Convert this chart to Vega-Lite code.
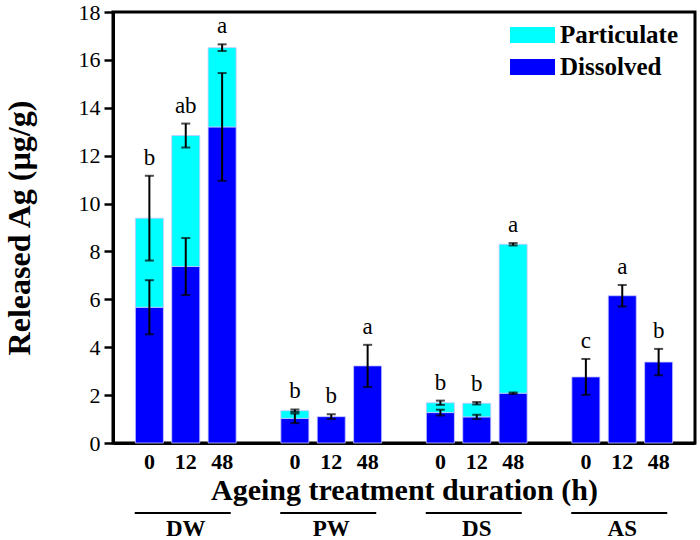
{
  "$schema": "https://vega.github.io/schema/vega-lite/v6.json",
  "width": 582,
  "height": 431,
  "autosize": {"type": "none"},
  "padding": {"left": 113, "top": 12, "right": 5, "bottom": 97},
  "background": "white",
  "config": {
    "view": {"stroke": "black", "strokeWidth": 3},
    "font": "'Liberation Serif', 'DejaVu Serif', serif"
  },
  "data": {
    "values": [
      {"group": "DW", "time": 0, "component": "Dissolved", "value": 5.67, "err": 1.13, "sig": "b"},
      {"group": "DW", "time": 0, "component": "Particulate", "value": 3.72, "err": 1.77, "sig": "b"},
      {"group": "DW", "time": 12, "component": "Dissolved", "value": 7.37, "err": 1.19, "sig": "ab"},
      {"group": "DW", "time": 12, "component": "Particulate", "value": 5.47, "err": 0.5, "sig": "ab"},
      {"group": "DW", "time": 48, "component": "Dissolved", "value": 13.2, "err": 2.25, "sig": "a"},
      {"group": "DW", "time": 48, "component": "Particulate", "value": 3.31, "err": 0.14, "sig": "a"},
      {"group": "PW", "time": 0, "component": "Dissolved", "value": 1.03, "err": 0.2, "sig": "b"},
      {"group": "PW", "time": 0, "component": "Particulate", "value": 0.32, "err": 0.05, "sig": "b"},
      {"group": "PW", "time": 12, "component": "Dissolved", "value": 1.1, "err": 0.1, "sig": "b"},
      {"group": "PW", "time": 48, "component": "Dissolved", "value": 3.22, "err": 0.88, "sig": "a"},
      {"group": "DS", "time": 0, "component": "Dissolved", "value": 1.27, "err": 0.12, "sig": "b"},
      {"group": "DS", "time": 0, "component": "Particulate", "value": 0.41, "err": 0.09, "sig": "b"},
      {"group": "DS", "time": 12, "component": "Dissolved", "value": 1.09, "err": 0.09, "sig": "b"},
      {"group": "DS", "time": 12, "component": "Particulate", "value": 0.57, "err": 0.05, "sig": "b"},
      {"group": "DS", "time": 48, "component": "Dissolved", "value": 2.08, "err": 0.03, "sig": "a"},
      {"group": "DS", "time": 48, "component": "Particulate", "value": 6.22, "err": 0.05, "sig": "a"},
      {"group": "AS", "time": 0, "component": "Dissolved", "value": 2.76, "err": 0.75, "sig": "c"},
      {"group": "AS", "time": 12, "component": "Dissolved", "value": 6.15, "err": 0.45, "sig": "a"},
      {"group": "AS", "time": 48, "component": "Dissolved", "value": 3.38, "err": 0.55, "sig": "b"}
    ]
  },
  "transform": [{"calculate": "datum.group + ' ' + datum.time", "as": "sample"}],
  "layer": [
    {
      "mark": {"type": "bar", "stroke": "#c8c8ff", "strokeWidth": 0.8},
      "encoding": {
        "x": {
          "field": "sample",
          "type": "nominal",
          "title": "Ageing treatment duration (h)",
          "scale": {
            "domain": ["DW 0", "DW 12", "DW 48", "gap1", "PW 0", "PW 12", "PW 48", "gap2", "DS 0", "DS 12", "DS 48", "gap3", "AS 0", "AS 12", "AS 48"],
            "paddingInner": 0.23,
            "paddingOuter": 0.615
          },
          "axis": {
            "labelExpr": "indexof(datum.label, 'gap') >= 0 ? '' : split(datum.label, ' ')[1]",
            "labelAngle": 0,
            "ticks": false,
            "domainWidth": 3,
            "domainColor": "black",
            "labelFont": "'Liberation Serif', 'DejaVu Serif', serif",
            "labelFontSize": 22,
            "labelFontWeight": "bold",
            "labelColor": "black",
            "labelPadding": 8,
            "titleFont": "'Liberation Serif', 'DejaVu Serif', serif",
            "titleFontSize": 30,
            "titleFontWeight": "bold",
            "titleColor": "black",
            "titlePadding": 3
          }
        },
        "y": {
          "field": "value",
          "type": "quantitative",
          "stack": "zero",
          "title": "Released Ag (µg/g)",
          "scale": {"domain": [0, 18], "nice": false},
          "axis": {
            "values": [0, 1, 2, 3, 4, 5, 6, 7, 8, 9, 10, 11, 12, 13, 14, 15, 16, 17, 18],
            "labelExpr": "datum.value % 2 ? '' : datum.label",
            "tickSize": {"condition": {"test": "datum.value % 2 == 1", "value": 5}, "value": 9},
            "tickWidth": 2.5,
            "tickColor": "black",
            "domainColor": "black",
            "domainWidth": 3,
            "grid": false,
            "labelOverlap": false,
            "labelFlush": false,
            "labelFont": "'Liberation Serif', 'DejaVu Serif', serif",
            "labelFontSize": 22,
            "labelColor": "black",
            "labelPadding": 4,
            "titleFont": "'Liberation Serif', 'DejaVu Serif', serif",
            "titleFontSize": 32,
            "titleFontWeight": "bold",
            "titleColor": "black",
            "titlePadding": 42
          }
        },
        "color": {
          "field": "component",
          "type": "nominal",
          "scale": {"domain": ["Particulate", "Dissolved"], "range": ["#00FFFF", "#0000FF"]},
          "legend": {
            "orient": "none",
            "legendX": 404.5,
            "legendY": 8,
            "title": null,
            "padding": 0,
            "symbolType": "M-1.5,-0.53L1.5,-0.53L1.5,0.53L-1.5,0.53Z",
            "symbolSize": 900,
            "symbolStrokeWidth": 0,
            "symbolOpacity": 1,
            "rowPadding": 4,
            "labelOffset": 12.5,
            "labelFont": "'Liberation Serif', 'DejaVu Serif', serif",
            "labelFontSize": 25,
            "labelFontWeight": "bold",
            "labelColor": "black"
          }
        },
        "order": {"field": "component", "sort": "ascending"}
      }
    },
    {
      "transform": [
        {"stack": "value", "groupby": ["sample"], "sort": [{"field": "component", "order": "ascending"}], "as": ["v0", "v1"]}
      ],
      "mark": {"type": "errorbar", "color": "black", "thickness": 2, "ticks": {"size": 9}},
      "encoding": {
        "x": {"field": "sample", "type": "nominal", "title": "Ageing treatment duration (h)"},
        "y": {"field": "v1", "type": "quantitative", "title": "Released Ag (µg/g)"},
        "yError": {"field": "err"}
      }
    },
    {
      "transform": [
        {"stack": "value", "groupby": ["sample"], "sort": [{"field": "component", "order": "ascending"}], "as": ["v0", "v1"]},
        {"calculate": "datum.v1 + datum.err", "as": "hi"},
        {"aggregate": [{"op": "max", "field": "hi", "as": "hi"}], "groupby": ["sample", "sig"]}
      ],
      "mark": {"type": "text", "baseline": "alphabetic", "dy": -11, "fontSize": 23, "font": "'Liberation Serif', 'DejaVu Serif', serif", "color": "black"},
      "encoding": {
        "x": {"field": "sample", "type": "nominal", "title": "Ageing treatment duration (h)"},
        "y": {"field": "hi", "type": "quantitative", "title": "Released Ag (µg/g)"},
        "text": {"field": "sig"}
      }
    },
    {
      "transform": [{"filter": "datum.time == 12 && datum.component == 'Dissolved'"}],
      "mark": {"type": "rule", "strokeWidth": 2, "color": "black", "xOffset": -51, "x2Offset": 45},
      "encoding": {
        "x": {"field": "sample", "type": "nominal", "title": "Ageing treatment duration (h)"},
        "x2": {"field": "sample"},
        "y": {"datum": -2.92, "type": "quantitative", "title": "Released Ag (µg/g)"}
      }
    },
    {
      "transform": [{"filter": "datum.time == 12 && datum.component == 'Dissolved'"}],
      "mark": {"type": "text", "baseline": "alphabetic", "fontSize": 23, "fontWeight": "bold", "font": "'Liberation Serif', 'DejaVu Serif', serif", "color": "black"},
      "encoding": {
        "x": {"field": "sample", "type": "nominal", "title": "Ageing treatment duration (h)"},
        "y": {"datum": -3.885, "type": "quantitative", "title": "Released Ag (µg/g)"},
        "text": {"field": "group"}
      }
    }
  ]
}
